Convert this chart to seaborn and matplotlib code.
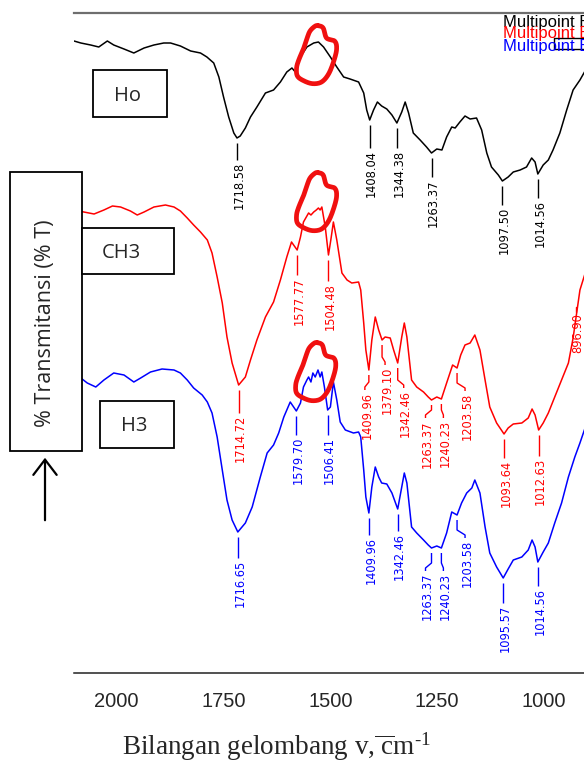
import numpy as np
import pandas as pd
import matplotlib
matplotlib.use("Agg")
import matplotlib.pyplot as plt
import seaborn as sns
from matplotlib import font_manager as fm
from matplotlib.patches import Rectangle, FancyArrowPatch
from matplotlib.lines import Line2D
from matplotlib.ticker import FixedLocator, MultipleLocator

# ---------------- spectra (wavenumber, relative transmittance) ----------------
ho_wn = [2100, 2084, 2061, 2042, 2022, 2007, 1983, 1960, 1936, 1913, 1890, 1874, 1851, 1827,
         1804, 1789, 1773, 1761, 1750, 1738, 1726, 1718.58, 1711, 1699, 1687, 1672, 1652, 1633,
         1617, 1602, 1590, 1582, 1570, 1555, 1539, 1528, 1516, 1500, 1485, 1469, 1454, 1434,
         1422, 1415, 1408.04, 1399, 1390, 1380, 1368, 1356, 1344.38, 1333, 1325, 1317, 1306,
         1290, 1275, 1263.37, 1251, 1239, 1228, 1216, 1208, 1197, 1185, 1173, 1158, 1146, 1134,
         1123, 1107, 1097.50, 1084, 1072, 1056, 1041, 1029, 1021, 1014.56, 1002, 990, 979, 963,
         947, 932, 916, 900]
ho_t = [632, 630, 628, 626, 632, 628, 624, 620, 625, 628, 630, 630, 627, 622,
        620, 616, 610, 596, 576, 556, 540, 535, 537, 545, 556, 566, 580, 583,
        591, 601, 605, 601, 616, 626, 630, 631, 626, 616, 606, 596, 594, 591,
        580, 563, 553, 563, 571, 567, 564, 558, 550, 561, 571, 560, 540,
        533, 526, 520, 524, 523, 536, 546, 545, 551, 557, 554, 555, 543, 520,
        506, 498, 492, 496, 501, 503, 506, 515, 511, 499, 508, 513, 523, 540,
        563, 583, 593, 605]

ch3_wn = [2100, 2077, 2053, 2030, 2010, 1991, 1968, 1952, 1936, 1913, 1886, 1866, 1851, 1835,
          1820, 1804, 1788, 1777, 1765, 1753, 1742, 1730, 1714.72, 1699, 1687, 1672, 1652,
          1633, 1617, 1602, 1591, 1577.77, 1570, 1563, 1551, 1545.5, 1539, 1533, 1528, 1524,
          1520, 1512, 1504.48, 1499, 1493, 1485, 1473, 1461, 1450, 1434, 1429, 1422, 1417,
          1409.96, 1403, 1395, 1387, 1379.10, 1372, 1360, 1352, 1342.46, 1333, 1327, 1321,
          1310, 1298, 1282, 1271, 1263.37, 1251, 1240.23, 1228, 1214, 1203.58, 1195, 1185,
          1173, 1162, 1150, 1138, 1127, 1111, 1093.64, 1084, 1072, 1052, 1037, 1028, 1021,
          1012.63, 1002, 990, 975, 959, 943, 932, 916, 900]
ch3_t = [463, 461, 459, 463, 467, 466, 462, 458, 461, 466, 468, 466, 462, 455,
         448, 441, 433, 420, 396, 370, 336, 310, 288, 296, 313, 333, 356,
         371, 393, 416, 431, 423, 436, 451, 460, 458, 461, 463, 465, 463,
         466, 446, 418, 433, 451, 433, 400, 393, 390, 391, 383, 350, 323,
         303, 333, 356, 343, 333, 336, 335, 323, 310, 336, 350, 336,
         293, 286, 281, 276, 273, 276, 274, 290, 308, 305, 318, 328,
         330, 338, 323, 293, 266, 250, 239, 245, 249, 250, 255, 264, 258,
         243, 250, 260, 276, 293, 310, 335, 383, 405]

h3_wn = [2100, 2084, 2069, 2049, 2030, 2007, 1983, 1960, 1944, 1921, 1894, 1866, 1851, 1835,
         1820, 1800, 1788, 1777, 1765, 1753, 1742, 1730, 1716.65, 1699, 1683, 1664, 1648,
         1633, 1621, 1609, 1594, 1579.70, 1570, 1563, 1555, 1551, 1545.5, 1541, 1535.5, 1529,
         1524, 1520, 1514, 1506.41, 1500, 1493, 1485, 1477, 1465, 1446, 1434, 1429, 1422,
         1417, 1409.96, 1403, 1395, 1387, 1380, 1368, 1356, 1342.46, 1333, 1327, 1321, 1310,
         1298, 1282, 1271, 1263.37, 1251, 1240.23, 1228, 1216, 1203.58, 1193, 1181, 1169,
         1162, 1150, 1138, 1127, 1111, 1095.57, 1084, 1072, 1052, 1037, 1028, 1021, 1014.56,
         1002, 990, 975, 959, 943, 928, 916, 900]
h3_t = [296, 295, 290, 286, 293, 300, 298, 291, 295, 301, 304, 303, 300, 293,
        285, 278, 271, 260, 236, 203, 173, 153, 141, 150, 166, 196, 220,
        228, 240, 256, 271, 262, 270, 286, 293, 296, 291, 300, 296, 303,
        296, 301, 286, 263, 266, 291, 273, 251, 243, 240, 241, 236, 203,
        176, 160, 186, 206, 196, 190, 189, 180, 164, 186, 200, 190, 146,
        140, 133, 128, 125, 127, 125, 140, 161, 158, 170, 180, 185,
        193, 180, 146, 120, 106, 95, 104, 113, 116, 123, 133, 126, 111,
        121, 130, 150, 170, 196, 216, 230, 250]

# ---------------- peak labels ----------------
ho_peaks = [1718.58, 1408.04, 1344.38, 1263.37, 1097.50, 1014.56]
ch3_peaks = [1714.72, 1577.77, 1504.48, 1409.96, 1379.10, 1342.46, 1263.37, 1240.23,
             1203.58, 1093.64, 1012.63]
h3_peaks = [1716.65, 1579.70, 1506.41, 1409.96, 1342.46, 1263.37, 1240.23, 1203.58,
            1095.57, 1014.56]

series_names = ["Ho", "CH3", "H3"]
legend_text = "Multipoint Baseline correction"

# ---------------- layout of label text (text top, sideways shift in px) ----------------
ho_tops = [511, 523, 523, 494, 466, 473]
ho_shift = [0, 0, 0, 0, 0, 0]
ch3_tops = [258, 396, 390, 281, 306, 283, 253, 253, 280, 213, 215]
ch3_shift = [0, 0, 0, -4, 3, 6, -6, 2, 8, 0, 0]
h3_tops = [113, 236, 236, 136, 140, 100, 100, 133, 68, 85]
h3_shift = [0, 0, 0, 0, 0, -6, 2, 8, 0, 0]

W, H = 584, 761
X0, X1 = 2100, 906.5

sns.set_style("white")
plt.rcParams["font.family"] = ["Liberation Sans", "DejaVu Sans"]
plt.rcParams["mathtext.fontset"] = "custom"
plt.rcParams["mathtext.rm"] = "Liberation Serif"
plt.rcParams["mathtext.it"] = "Liberation Serif:italic"


def pick_narrow_font():
    fonts = fm.fontManager.ttflist
    names = {f.name for f in fonts}
    if "Liberation Sans Narrow" in names:
        return dict(family="Liberation Sans Narrow", fontsize=11)
    for fam in ["Liberation Sans", "DejaVu Sans", "Noto Sans", "Roboto", "Open Sans"]:
        for f in fonts:
            if (f.name == fam and str(f.stretch) in ("condensed", "semi-condensed")
                    and f.style == "normal" and f.weight in (400, "normal", "regular")):
                return dict(family=fam, fontstretch=str(f.stretch), fontsize=9.2)
    return dict(family="Liberation Sans", fontsize=9.5)


peak_font = pick_narrow_font()

fig = plt.figure(figsize=(W / 100, H / 100), dpi=100)
fig.patch.set_facecolor("white")
ax = fig.add_axes([74 / W, (H - 673) / H, (W - 74) / W, 660 / H])
ppu = (W - 74) / (X0 - X1)  # pixels per wavenumber unit


def fx(x):
    return x / W


def fy(y):
    return 1 - y / H


colors = ["#000000", "#ff0000", "#0000ff"]
spectra = [(ho_wn, ho_t), (ch3_wn, ch3_t), (h3_wn, h3_t)]
for (wn, t), c in zip(spectra, colors):
    df = pd.DataFrame({"wn": wn, "T": t})
    sns.lineplot(data=df, x="wn", y="T", color=c, lw=1.1, ax=ax, sort=False,
                 estimator=None, legend=False)

ax.set_xlim(X0, X1)
ax.set_ylim(0, 660)
ax.set_xlabel("")
ax.set_ylabel("")
ax.set_yticks([])
for s in ["left", "right"]:
    ax.spines[s].set_visible(False)
ax.spines["top"].set_color("#6e6e6e")
ax.spines["top"].set_linewidth(1.6)
ax.spines["bottom"].set_color("#222222")
ax.spines["bottom"].set_linewidth(1.1)
ax.xaxis.set_major_locator(FixedLocator([2000, 1750, 1500, 1250, 1000]))
ax.xaxis.set_minor_locator(MultipleLocator(50))
ax.tick_params(axis="x", which="major", direction="out", length=9.5, width=1.0,
               color="#222222", labelsize=14.5, pad=4)
ax.tick_params(axis="x", which="minor", direction="out", length=5.8, width=1.0,
               color="#222222")


def label_peaks(peaks, tops, shifts, wn, t, color):
    wn_a = np.asarray(wn)[::-1]
    t_a = np.asarray(t)[::-1]
    for v, top, s in zip(peaks, tops, shifts):
        ypk = np.interp(v, wn_a, t_a)
        y0 = ypk - 5
        xs = v - s / ppu
        if s == 0:
            lx, ly = [v, v], [y0, top + 2]
        else:
            lx, ly = [v, v, xs, xs], [y0, top + 10, top + 5, top + 2]
        ax.plot(lx, ly, color=color, lw=1.0, solid_capstyle="butt")
        ax.text(xs - 2 / ppu, top, f"{v:.2f}", rotation=90, ha="center", va="top",
                color=color, **peak_font)


label_peaks(ho_peaks, ho_tops, ho_shift, ho_wn, ho_t, colors[0])
label_peaks(ch3_peaks, ch3_tops, ch3_shift, ch3_wn, ch3_t, colors[1])
label_peaks(h3_peaks, h3_tops, h3_shift, h3_wn, h3_t, colors[2])

# band beyond the right edge of the range
edge_x = X0 - (578 - 74) / ppu
ax.plot([edge_x + 2 / ppu] * 2, [366, 361], color=colors[1], lw=1.0, clip_on=False)
ax.text(edge_x, 360, "896.90", rotation=90, ha="center", va="top", color=colors[1],
        clip_on=False, **peak_font)

# hand-drawn highlight loops around the 1530 cm-1 band
loop = np.array([(2.3, 29.3), (7.3, 27), (10.7, 17), (19, 13.7), (20.7, 5.3), (17.3, -8),
                 (12.3, -19.7), (5.7, -27), (-2.7, -28.7), (-11, -26.3), (-18.3, -21.3),
                 (-19.3, -13), (-17, -4.7), (-12.7, 5.3), (-9.3, 15.3), (-6, 23.7),
                 (-1, 28.7)])
loop_centres = [(1534, 618), (1534, 471), (1536, 301)]


def smooth_closed(pts, n=12):
    p = np.vstack([pts[-1], pts, pts[0], pts[1]])
    out = []
    for i in range(1, len(p) - 2):
        p0, p1, p2, p3 = p[i - 1], p[i], p[i + 1], p[i + 2]
        for u in np.linspace(0, 1, n, endpoint=False):
            out.append(0.5 * ((2 * p1) + (-p0 + p2) * u
                              + (2 * p0 - 5 * p1 + 4 * p2 - p3) * u ** 2
                              + (-p0 + 3 * p1 - 3 * p2 + p3) * u ** 3))
    out.append(out[0])
    return np.array(out)


sm = smooth_closed(loop)
for cx, cy in loop_centres:
    ax.plot(cx - sm[:, 0] / ppu, cy + sm[:, 1], color="#f01010", lw=3.4,
            solid_joinstyle="round", solid_capstyle="round", zorder=10)

# y-axis caption box and arrow
fig.add_artist(Rectangle((fx(10), fy(451)), 72 / W, 279 / H, transform=fig.transFigure,
                         facecolor="white", edgecolor="black", lw=1.3, zorder=5))
fig.text(fx(46), fy(323), "% Transmitansi (% T)", rotation=90, ha="center", va="center",
         family="Open Sans", fontsize=15.5, zorder=6)
fig.add_artist(FancyArrowPatch((fx(45), fy(523)), (fx(45), fy(455)),
                               transform=fig.transFigure,
                               arrowstyle="->,head_length=0.55,head_width=0.42",
                               mutation_scale=20, lw=1.6, color="black", zorder=6))

# sample name boxes
boxes = [((93, 70, 167, 117), (128, 96)), ((82, 228, 174, 274), (121, 253)),
         ((100, 401, 174, 448), (134, 426))]
for name, ((x0, y0, x1, y1), (tx, ty)) in zip(series_names, boxes):
    fig.add_artist(Rectangle((fx(x0), fy(y1)), (x1 - x0) / W, (y1 - y0) / H,
                             transform=fig.transFigure, facecolor="white",
                             edgecolor="black", lw=1.3, zorder=5))
    fig.text(fx(tx), fy(ty), name, ha="center", va="center", family="Open Sans",
             fontsize=14.5, zorder=6)

# legend entries (partly outside the figure)
for c, y in zip(colors, [22.5, 33.5, 46]):
    fig.text(fx(503), fy(y), legend_text, color=c, fontsize=12, va="center",
             family="Liberation Sans")
fig.add_artist(Line2D([fx(584), fx(553.5), fx(553.5), fx(584)],
                      [fy(37.5), fy(37.5), fy(49), fy(49)], transform=fig.transFigure,
                      color="black", lw=1.0))

# x-axis caption
fig.text(fx(277), fy(755), r"Bilangan gelombang v,$\overline{\ \mathrm{c}}$m$^{\text{-}1}$",
         ha="center", va="baseline", family="Liberation Serif", fontsize=19.5)

fig.savefig("out.png", dpi=100, facecolor="white")
